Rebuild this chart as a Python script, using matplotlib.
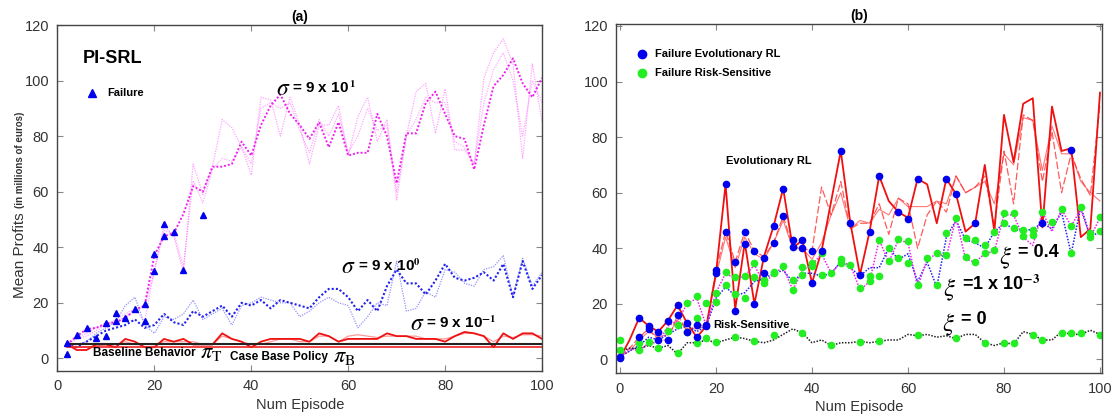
import numpy as np
import matplotlib
matplotlib.use('Agg')
import matplotlib.pyplot as plt

plt.rcParams['font.family'] = ['Liberation Sans', 'DejaVu Sans']
plt.rcParams['mathtext.fontset'] = 'stix'

# ---- panel (a): PI-SRL ----
ep_a = np.arange(2, 101, 2)

sig1_a = [5, 8, 10.5, 11, 12.5, 13, 14.5, 17.5, 19, 37,
          44, 45, 52, 62, 60, 69, 69, 70, 78, 73,
          84, 91, 95, 88, 84, 79, 85, 76, 85, 73,
          74, 74, 88, 80, 63, 81, 81, 92, 96, 88,
          80, 79, 68, 84, 98, 102, 108, 99, 94, 101]
sig1_b = [5, 7, 8, 10, 12, 13, 15, 17, 19, 31,
          48, 44, 31, 70, 59, 69, 86, 83, 76, 66,
          94, 93, 80, 94, 84, 70, 84, 84, 91, 73,
          87, 94, 78, 86, 57, 80, 96, 99, 81, 97,
          75, 75, 70, 101, 110, 115, 106, 72, 106, 85]
sig1_c = [5, 7.5, 9, 11, 12, 14, 16, 18, 13, 32,
          46, 45, 33, 64, 56, 68, 72, 71, 76, 70,
          90, 92, 90, 92, 82, 74, 86, 80, 88, 74,
          80, 90, 82, 84, 60, 80, 86, 94, 92, 92,
          78, 76, 70, 92, 104, 110, 100, 80, 100, 92]

sig0_a = [5, 4, 6, 8, 10, 11, 12, 14, 11, 12,
          16, 13, 12, 17, 15, 17, 19, 15, 20, 19,
          21, 18, 21, 20, 19, 18, 22, 25, 25, 22,
          17, 21, 17, 26, 32, 27, 27, 23, 28, 34,
          29, 28, 29, 31, 28, 34, 22, 35, 25, 30]
sig0_b = [5, 5, 6, 9, 11, 13, 19, 22, 12, 9,
          15, 14, 16, 21, 14, 16, 18, 12, 19, 20,
          22, 21, 20, 20, 15, 17, 20, 22, 20, 19,
          11, 15, 20, 19, 35, 17, 18, 24, 22, 32,
          31, 27, 26, 32, 33, 37, 22, 36, 26, 31]

sigm1_a = [5, 3, 3, 5, 5, 4, 7, 6, 4, 4,
           7, 6, 7, 5, 5, 5, 9, 7, 6, 4,
           6, 7, 7, 7, 7, 6, 9, 8, 6, 7,
           7, 7, 7, 9, 8, 8, 7, 7, 7, 6,
           8, 9.5, 9, 8, 4, 9, 7, 9, 9, 7]
sigm1_b = [5, 4, 4, 4.5, 5, 5, 6, 5, 5, 5,
           6, 6, 6, 6, 5, 5, 8, 7, 6, 5,
           5, 6, 7, 7, 6, 6, 8, 8, 6, 8,
           8.5, 8, 7.5, 8, 8, 8, 8, 7, 7, 7,
           8, 9, 9, 8, 6, 8, 7.5, 8.5, 8.5, 8]

baseline_T = 5.3
case_base_B = 4.2

fail_a_x = [2, 2, 4, 6, 8, 10, 10, 12, 12, 14, 16, 18, 18, 20, 20, 22, 22, 24, 26, 30]
fail_a_y = [1.6, 5.4, 8.4, 10.8, 7.4, 12.8, 7.9, 16.4, 13.4, 14.4, 17.9, 19.6, 13.4,
            37.4, 31.6, 44, 48.2, 45.4, 31.7, 51.6]

# ---- panel (b): Evolutionary RL vs Risk-Sensitive ----
ep_b = np.arange(0, 101, 2)

evo_main = [0.5,
            7, 15, 12, 10, 14, 19.5, 13, 8, 12, 31,
            63, 18, 42, 20, 37, 48, 61.5, 40, 43, 27.5,
            39, 57, 75, 49, 30.5, 46, 66, 57, 53, 51,
            65, 63, 49, 65, 59.5, 46, 49, 70, 46, 88,
            71, 92, 94, 47.5, 91, 75, 76, 44, 47, 96]
evo_dash = [1,
            4, 8, 11, 7, 7, 16, 10, 12.5, 12, 32,
            46, 35, 46, 39, 37, 42, 51.5, 40.5, 40, 39,
            62, 52, 64, 47, 49, 49, 56, 45, 58, 56,
            40, 52, 57, 53, 66, 60, 62, 66, 48, 75,
            56, 88, 86, 64, 82, 60, 74, 65, 59, 92]
evo_thin = [1,
            3, 7, 10, 8, 9, 14, 11, 11, 12, 30,
            44, 33, 44, 38, 36, 42, 50, 40, 40, 36,
            42, 52, 60, 47, 50, 49, 54, 52, 58, 55,
            55, 55, 57, 56, 66, 60, 62, 64, 56, 74,
            70, 87, 86, 68, 84, 74, 74, 64, 60, 57]

xi04 = [1,
        3, 5, 8, 7, 9, 11, 12, 10, 12, 22,
        26, 23, 24, 28, 29, 31, 32, 28, 31, 31,
        30, 31, 35, 33, 30, 33, 33, 40, 36, 38,
        28, 35, 26, 44, 50, 43, 42, 40, 46, 49,
        47, 46, 47, 49, 47, 53, 38, 55, 44, 46]
xi1e3 = [1,
         4, 3, 6, 6, 12, 14, 20, 22, 12, 24,
         31, 29, 30, 34, 27, 31, 33, 25, 32, 34,
         38, 31, 35, 34, 25, 28, 43, 35, 43, 42,
         26, 36, 38, 37, 51, 36, 35, 38, 39, 52,
         52, 44, 41, 53, 46, 54, 48, 54, 44, 51]
xi0 = [3,
       4, 4, 5, 4, 5, 2, 6, 6, 7, 6,
       7, 8, 7.5, 6.5, 6, 7, 9, 11, 9.5, 6,
       7, 5, 6, 6, 6.5, 6, 6.5, 7, 7, 9,
       8.5, 9, 8, 8.5, 7.5, 9, 9, 6, 5, 6,
       5.5, 10, 9, 7, 7, 10, 9, 9, 10.5, 9]

fail_evo_x = [0, 0, 4, 4, 6, 6, 8, 8, 10, 10, 12, 12, 14, 14, 16, 16, 18, 18, 20, 20,
              22, 22, 24, 24, 26, 26, 28, 28, 30, 30, 32, 32, 34, 34, 36, 36, 38, 38,
              40, 40, 42, 46, 48, 50, 52, 54, 58, 60, 62, 68, 70, 74, 88, 94]
fail_evo_y = [0.5, 1, 15, 8, 12, 11, 10, 7, 14, 7, 19.5, 16, 13, 10, 8, 12.5, 12, 12.5, 31, 32,
              63, 46, 17.5, 35, 41.5, 46, 20, 39, 36.5, 31, 48, 42, 61.5, 51.5, 43, 40.5, 43, 40,
              27.5, 39, 39, 75, 49, 30.5, 46, 66, 53, 50.5, 65, 65, 59.5, 49, 49, 75.5]

fail_rs_x = [0, 0, 4, 4, 6, 8, 10, 12, 12, 14, 14, 16, 16, 16, 18, 18, 20, 20, 20,
             22, 22, 24, 24, 24, 26, 26, 28, 28, 28, 30, 30, 32, 32, 32, 34, 36, 36,
             38, 38, 38, 40, 40, 42, 42, 44, 44, 46, 46, 48, 50, 50, 52, 52, 54, 54, 54,
             56, 56, 58, 58, 60, 60, 62, 62, 64, 66, 66, 68, 68, 70, 70, 72, 72, 74, 74,
             76, 76, 76, 78, 78, 80, 80, 80, 82, 82, 82, 84, 84, 86, 86, 86, 88, 88,
             90, 92, 92, 94, 94, 94, 96, 96, 98, 98, 100, 100, 100]
fail_rs_y = [7, 3.4, 3.4, 5.8, 6.4, 4, 10.3, 12.4, 2.2, 10, 20.4, 22.8, 14.8, 5.8, 20.4, 7.6,
             24, 20.8, 6.4, 31.6, 26.8, 29.5, 23.5, 8.2, 30, 22.2, 34.8, 29.8, 6.7, 28.6, 27.4,
             31.6, 31, 8.8, 33.6, 28.6, 25, 33.4, 30.4, 9.6, 34.6, 33.6, 38.2, 30.4, 31, 5.3,
             36, 34.6, 34, 25.6, 6.4, 28.2, 30, 43, 30, 6.7, 40, 35.4, 43.2, 36.4, 42.6, 34.6,
             26.8, 8.8, 36.4, 26.8, 38.2, 45.4, 37.6, 50.8, 7.6, 43.6, 36.7, 43, 35.2,
             41.2, 38.2, 5.8, 46, 39.4, 52.8, 49.2, 5.8, 52.8, 47.4, 5.8, 46.6, 44.4,
             46.6, 44.8, 8.8, 53.2, 7, 49.6, 54, 9.4, 48, 38.4, 9.4, 55, 9.6, 44.2, 45.4,
             51.4, 46.2, 8.8]

fig = plt.figure(figsize=(11.11, 4.17), dpi=100)
ax1 = fig.add_axes([0.0517, 0.110, 0.4362, 0.830])
ax2 = fig.add_axes([0.5548, 0.1048, 0.4368, 0.8376])

dots = (0, (1, 1))
# (a)
ax1.plot(ep_a, sig1_b, color='#ff66ff', ls=dots, lw=0.9, alpha=0.6)
ax1.plot(ep_a, sig1_c, color='#ff44ff', ls=dots, lw=0.9, alpha=0.45)
ax1.plot(ep_a, sig1_a, color='#ee22ee', ls=dots, lw=1.4)
ax1.plot(ep_a, sig0_b, color='#6666ff', ls=dots, lw=0.9, alpha=0.7)
ax1.plot(ep_a, sig0_a, color='#2222ee', ls=dots, lw=1.5)
ax1.plot(ep_a, sigm1_b, color='#ff5555', lw=0.9, alpha=0.6)
ax1.plot(ep_a, sigm1_a, color='#ee1111', lw=1.3)
ax1.plot([2, 100], [baseline_T, baseline_T], color='#222222', lw=1.5)
ax1.plot([2, 100], [case_base_B, case_base_B], color='#ee2222', lw=1.2)
ax1.plot(fail_a_x, fail_a_y, ls='none', marker='^', color='#0000ee', ms=4)
ax1.plot([7.2], [95.7], ls='none', marker='^', color='#0000ee', ms=6)

ax1.text(5.2, 108, 'PI-SRL', fontsize=13, fontweight='bold', va='center')
ax1.text(10.3, 95.6, 'Failure', fontsize=8, fontweight='bold', va='center')

sig_labels = [(45.2, 97, 48.5, r'= 9 x 10$^{\mathbf{\,1}}$'),
              (58.6, 33, 62.0, r'= 9 x 10$^{\mathbf{0}}$'),
              (72.7, 12.5, 76.0, r'= 9 x 10$^{\mathbf{-1}}$')]
for xs, ys, xr, rest in sig_labels:
    ax1.text(xs, ys, r'$\sigma$', fontsize=17, va='center')
    ax1.text(xr, ys + 0.5, rest, fontsize=11, fontweight='bold', va='center')

ax1.text(7.3, 1.8, 'Baseline Behavior', fontsize=8.5, fontweight='bold', va='center')
ax1.text(29.4, 2.2, r'$\pi_{\rm T}$', fontsize=16, va='center')
ax1.text(35.6, 0.4, 'Case Base Policy', fontsize=8.5, fontweight='bold', va='center')
ax1.text(56.8, 0.8, r'$\pi_{\rm B}$', fontsize=16, va='center')

ax1.set_xlim(0, 100)
ax1.set_ylim(-4.6, 120)
ax1.set_title('(a)', fontsize=10, fontweight='bold', pad=3)

# (b)
ax2.plot(ep_b, evo_thin, color='#ff5555', lw=0.8, alpha=0.8)
ax2.plot(ep_b, evo_dash, color='#ff3333', lw=0.9, ls=(0, (6, 2)), alpha=0.8)
ax2.plot(ep_b, evo_main, color='#ee1111', lw=1.3)
ax2.plot(ep_b, xi04, color='#2222ee', ls=dots, lw=1.1)
ax2.plot(ep_b, xi1e3, color='#ee22ee', ls=dots, lw=1.1)
ax2.plot(ep_b, xi0, color='#222222', ls=dots, lw=1.1)
ax2.plot(fail_rs_x, fail_rs_y, ls='none', marker='o', color='#22ee22', ms=4.5)
ax2.plot(fail_evo_x, fail_evo_y, ls='none', marker='o', color='#0000ee', ms=4.5)
ax2.plot([4.5], [110], ls='none', marker='o', color='#0000ee', ms=6)
ax2.plot([4.5], [103], ls='none', marker='o', color='#22ee22', ms=6)

ax2.text(7.2, 110, 'Failure Evolutionary RL', fontsize=8, fontweight='bold', va='center')
ax2.text(7.2, 103, 'Failure Risk-Sensitive', fontsize=8, fontweight='bold', va='center')
ax2.text(22, 71.4, 'Evolutionary RL', fontsize=8, fontweight='bold', va='center')
ax2.text(19.4, 12.4, 'Risk-Sensitive', fontsize=8, fontweight='bold', va='center')

xi_labels = [(79.0, 36.5, 83.0, '= 0.4'),
             (67.3, 25.0, 71.2, r'=1 x 10$^{\mathbf{-3}}$'),
             (67.0, 12.5, 71.0, '= 0')]
for xs, ys, xr, rest in xi_labels:
    ax2.text(xs, ys, r'$\xi$', fontsize=18, va='center')
    ax2.text(xr, ys + 2, rest, fontsize=13, fontweight='bold', va='center')

ax2.set_xlim(-0.75, 100.35)
ax2.set_ylim(-5, 120.7)
ax2.set_title('(b)', fontsize=10, fontweight='bold', pad=3)

for ax in (ax1, ax2):
    ax.set_xticks([0, 20, 40, 60, 80, 100])
    ax.set_yticks([0, 20, 40, 60, 80, 100, 120])
    ax.tick_params(direction='in', top=True, right=True, length=4, color='#888888',
                   labelsize=10.5, labelcolor='#333333', pad=6)
    for s in ax.spines.values():
        s.set_color('#444444')
        s.set_linewidth(1.0)
    ax.set_xlabel('Num Episode', fontsize=10.5, color='#333333', labelpad=3)

fig.text(0.018, 0.285, 'Mean Profits', rotation=90, fontsize=11, color='#333333',
         ha='center', va='bottom')
fig.text(0.018, 0.50, '(in millions of euros)', rotation=90, fontsize=7, color='#333333',
         fontweight='bold', ha='center', va='bottom')

fig.savefig('out.png', dpi=100)
